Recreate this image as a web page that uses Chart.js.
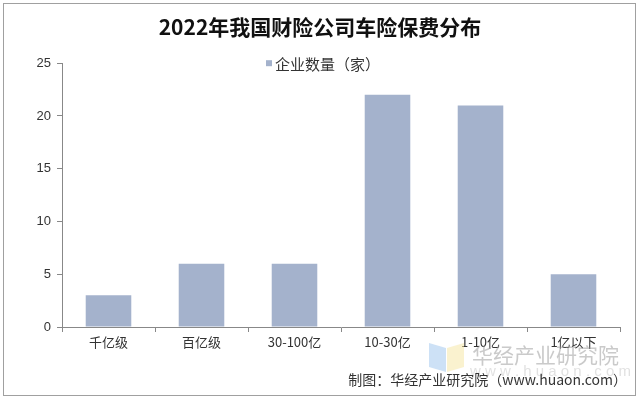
<!DOCTYPE html>
<html><head><meta charset="utf-8">
<script src="https://cdn.jsdelivr.net/npm/chart.js@4.4.0/dist/chart.umd.min.js"></script>
<style>html,body{margin:0;padding:0;background:#fff}#wrap{width:640px;height:401px}</style>
</head><body><div id="wrap"><canvas id="c" width="640" height="401"></canvas></div>
<script>
const categories = ['千亿级', '百亿级', '30-100亿', '10-30亿', '1-10亿', '1亿以下'];
const companyCounts = [3, 6, 6, 22, 21, 5];
const seriesName = '企业数量（家）';
const yTicks = [0, 5, 10, 15, 20, 25];
const titleText = '2022年我国财险公司车险保费分布';
const sourceText = '制图：华经产业研究院（www.huaon.com）';
const watermarkText = '华经产业研究院';
const watermarkUrl = 'www.huaon.com';

const barColor = '#a4b2cc';
const cjk = '"Noto Sans CJK SC", "Liberation Sans", sans-serif';

const decor = {
  id: 'decor',
  beforeDraw(chart) {
    const ctx = chart.ctx;
    ctx.save();
    ctx.fillStyle = '#fff';
    ctx.fillRect(0, 0, chart.width, chart.height);
    ctx.strokeStyle = '#a0a0a0';
    ctx.lineWidth = 1;
    ctx.strokeRect(3.5, 3.5, 632, 392);
    ctx.restore();
  },
  afterDraw(chart) {
    const ctx = chart.ctx;
    const ca = chart.chartArea;
    ctx.save();
    // legend
    ctx.font = '15px ' + cjk;
    ctx.textBaseline = 'middle';
    const lx = chart.width / 2 - 54;
    const ly = ca.top;
    ctx.fillStyle = barColor;
    ctx.fillRect(lx, ly - 3, 6, 6);
    ctx.fillStyle = '#333';
    ctx.textAlign = 'left';
    ctx.fillText(seriesName, lx + 9, ly + 1);
    // watermark logo
    ctx.globalAlpha = 0.5;
    ctx.fillStyle = '#9cc3ee';
    ctx.beginPath();
    ctx.moveTo(429, 343); ctx.lineTo(446, 348); ctx.lineTo(446, 372); ctx.lineTo(429, 367); ctx.closePath();
    ctx.fill();
    ctx.fillStyle = '#f5e6a0';
    ctx.beginPath();
    ctx.moveTo(447, 348); ctx.lineTo(464, 343); ctx.lineTo(464, 367); ctx.lineTo(447, 372); ctx.closePath();
    ctx.fill();
    ctx.globalAlpha = 1;
    ctx.fillStyle = 'rgba(150,150,150,0.5)';
    ctx.font = '21px ' + cjk;
    ctx.textAlign = 'left';
    ctx.fillText(watermarkText, 472, 355);
    ctx.fillStyle = 'rgba(170,170,170,0.35)';
    ctx.font = '15px "Liberation Sans", sans-serif';
    ctx.fillText(watermarkUrl.split('').join(' '), 470, 372);
    // source
    ctx.fillStyle = '#333';
    ctx.font = '14px ' + cjk;
    ctx.textAlign = 'right';
    ctx.fillText(sourceText, 627, 380);
    ctx.restore();
  }
};

new Chart(document.getElementById('c'), {
  type: 'bar',
  data: {
    labels: categories,
    datasets: [{
      label: seriesName,
      data: companyCounts,
      backgroundColor: barColor,
      borderWidth: 0,
      categoryPercentage: 1,
      barPercentage: 0.49
    }]
  },
  options: {
    responsive: false,
    animation: false,
    devicePixelRatio: 1,
    layout: { padding: { left: 20, right: 20, top: 0, bottom: 0 } },
    plugins: {
      legend: { display: false },
      tooltip: { enabled: false },
      title: {
        display: true,
        text: titleText,
        color: '#111',
        font: { family: cjk, size: 21, weight: 'bold', lineHeight: 1.2 },
        padding: { top: 14, bottom: 24 }
      }
    },
    scales: {
      x: {
        afterFit(s) { s.height = 74; },
        grid: { display: true, drawOnChartArea: false, drawTicks: true, tickLength: 5, color: '#888', offset: true },
        border: { display: true, color: '#888' },
        ticks: { color: '#333', font: { family: cjk, size: 13 }, padding: 2, maxRotation: 0, autoSkip: false }
      },
      y: {
        min: 0, max: 25,
        afterFit(s) { s.width = 42; },
        afterBuildTicks(s) { s.ticks = yTicks.map(v => ({ value: v })); },
        grid: { display: true, drawOnChartArea: false, drawTicks: true, tickLength: 5, color: '#888' },
        border: { display: true, color: '#888' },
        ticks: { color: '#333', font: { family: '"Liberation Sans", Arial, sans-serif', size: 13 }, padding: 6 }
      }
    }
  },
  plugins: [decor]
});
</script></body></html>
